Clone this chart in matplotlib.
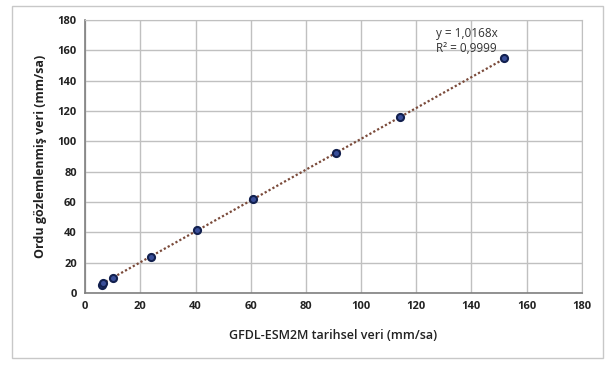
import matplotlib
matplotlib.use("Agg")
import matplotlib.pyplot as plt
import numpy as np
from matplotlib.patches import Rectangle

# Data
model_x = [6, 6.3, 10, 24, 40.5, 61, 91, 114, 152]
observed_y = [5.5, 6.5, 10, 24, 41.5, 62, 92.5, 116, 155]
slope = 1.0168
eq_text = "y = 1,0168x"
r2_text = "R² = 0,9999"
ticks = [0, 20, 40, 60, 80, 100, 120, 140, 160, 180]

plt.rcParams['font.family'] = ['Open Sans', 'DejaVu Sans']

fig = plt.figure(figsize=(6.13, 3.65), dpi=100)
ax = fig.add_axes([0.139, 0.197, 0.81, 0.748])

# outer chart border
fig.patches.append(Rectangle((0.02, 0.018), 0.963, 0.966, transform=fig.transFigure,
                             fill=False, edgecolor='#c8c8c8', linewidth=1))

# trendline through origin
xs = np.array([min(model_x), max(model_x)])
ax.plot(xs, slope * xs, linestyle=(0, (1, 1)), color='#7a4a3a', linewidth=1.6, zorder=2)
ax.scatter(model_x, observed_y, s=26, color='#3a4f9a', edgecolor='#12204f',
           linewidth=1.5, zorder=3)

ax.set_xlim(0, 180)
ax.set_ylim(0, 180)
ax.set_xticks(ticks)
ax.set_yticks(ticks)
ax.tick_params(length=0, labelsize=8, pad=6, labelcolor='#222222')
for lbl in ax.get_xticklabels() + ax.get_yticklabels():
    lbl.set_fontweight('bold')
ax.grid(True, color='#c0c0c0', linewidth=1)
ax.set_axisbelow(True)
for side in ['top', 'right']:
    ax.spines[side].set_color('#c0c0c0')
for side in ['left', 'bottom']:
    ax.spines[side].set_color('#7f7f7f')
    ax.spines[side].set_linewidth(1.2)

ax.set_xlabel('GFDL-ESM2M tarihsel veri (mm/sa)', fontsize=9, fontweight='semibold',
              labelpad=12, color='#222222')
ax.set_ylabel('Ordu gözlemlenmiş veri (mm/sa)', fontsize=9, fontweight='bold',
              labelpad=8, color='#222222')

ax.text(127, 171, eq_text, fontsize=8.5, va='center', color='#333333')
ax.text(127, 161, r2_text, fontsize=8.5, va='center', color='#333333')

fig.savefig('out.png', dpi=100)
